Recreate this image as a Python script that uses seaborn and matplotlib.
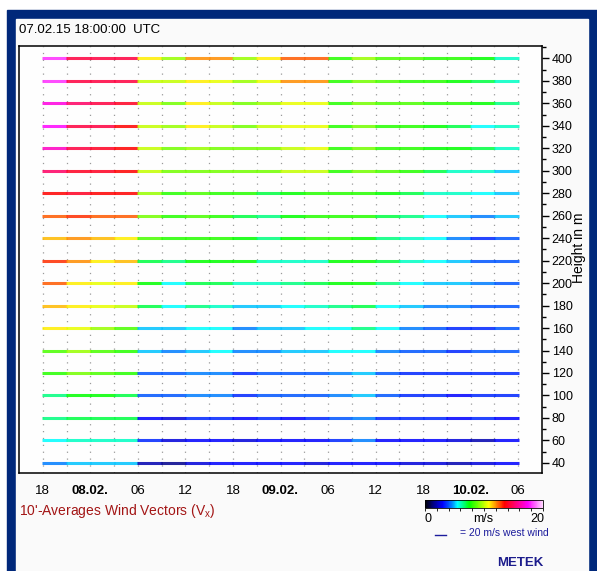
import numpy as np
import pandas as pd
import seaborn as sns
import matplotlib.pyplot as plt
import matplotlib.cm as cm
from matplotlib.colors import LinearSegmentedColormap, Normalize
from matplotlib.patches import Rectangle
from matplotlib.lines import Line2D
from matplotlib.ticker import MultipleLocator

plt.rcParams['font.family'] = ['Liberation Sans', 'DejaVu Sans']

# 10-minute averages, here as 3-hour blocks (hours after 07.02. 00:00)
bin_mid = [19.5, 22.5, 25.5, 28.5, 31.5, 34.5, 37.5, 40.5, 43.5, 46.5,
           49.5, 52.5, 55.5, 58.5, 61.5, 64.5, 67.5, 70.5, 73.5, 76.5]
heights = [400, 380, 360, 340, 320, 300, 280, 260, 240, 220,
           200, 180, 160, 140, 120, 100, 80, 60, 40]

# wind speed in m/s per height level
spd_400 = [18, 14.5, 14.5, 14.5, 11, 9.5, 12, 12, 9.5, 11, 12.5, 12.5, 8, 9.5, 8.5, 8.5, 8, 8, 7.5, 6]
spd_380 = [18, 14.5, 14.5, 14.5, 10, 10, 11, 10.5, 9.5, 10.5, 12, 12, 8, 9, 8.5, 8, 8, 7.5, 7, 6]
spd_360 = [17, 15, 14.5, 14, 10, 9, 11, 10, 9, 9.5, 10.5, 10.5, 8, 9, 8.5, 8.5, 8, 8, 7.5, 6.5]
spd_340 = [17.5, 14.5, 14.5, 13.5, 10, 9.5, 11, 10, 9, 10, 10.5, 10.5, 8, 9, 8, 8, 7.5, 7, 5.5, 6]
spd_320 = [16.5, 14.5, 14, 13.5, 10, 9, 9.5, 9, 9, 9, 10, 10.5, 8, 9, 8, 8, 7.5, 7.5, 7, 6]
spd_300 = [15, 14, 14, 13.5, 10, 9, 9, 9, 9, 9, 10, 10, 8, 9, 8.5, 8, 7, 6, 6, 5]
spd_280 = [13.5, 14, 13.5, 13.5, 9.5, 8, 8.5, 8, 8, 7, 7.5, 8, 8, 8, 7.5, 7, 6, 6, 5.5, 5]
spd_260 = [12.5, 13, 12.5, 12.5, 9, 8, 8.5, 8, 7, 6.5, 7.5, 8, 8, 8, 7, 6.5, 5.5, 5, 4.5, 5]
spd_240 = [11.5, 12, 11.5, 11, 8.5, 8, 8, 8, 7.5, 6.5, 7.5, 8, 8, 7.5, 6.5, 6, 5.5, 4.5, 3.5, 4]
spd_220 = [13, 12, 11, 11.5, 7, 6.5, 7.5, 7.5, 7.5, 6, 6, 6, 7.5, 7.5, 7, 6, 5.5, 5, 4, 4]
spd_200 = [12.5, 11, 10.5, 11, 7.5, 5.5, 7, 7, 6, 6, 6.5, 7, 7.5, 7.5, 6.5, 5.5, 5, 5, 4.5, 4]
spd_180 = [11.5, 11, 10.5, 10, 7, 5.5, 6.5, 6, 5, 5, 5.5, 6, 6.5, 7, 5.5, 5, 4.5, 4.5, 4, 4]
spd_160 = [11, 10.5, 9.5, 8.5, 5, 5, 5.5, 5.5, 4.5, 5, 5, 5.5, 5.5, 6.5, 5.5, 4.5, 4, 3.5, 3.5, 4]
spd_140 = [8.5, 9.5, 8.5, 8, 5, 4.5, 5, 5.5, 4.5, 4.5, 5, 5, 5.5, 5.5, 4.5, 4, 4, 3.5, 4, 4]
spd_120 = [8, 9, 8.5, 8, 4, 4, 4.5, 4.5, 3.5, 4, 4, 4, 4.5, 5, 4, 3.5, 3.5, 3.5, 3.5, 3.5]
spd_100 = [6.5, 7.5, 7.5, 7, 4, 4, 4.5, 4.5, 3.5, 4, 4, 4, 4.5, 5, 4, 3.5, 3.5, 3, 3.5, 3.5]
spd_080 = [6.5, 7, 7, 7, 3, 2.5, 3.5, 3.5, 3, 3.5, 3, 3.5, 4, 4.5, 3.5, 3.5, 3.5, 3, 3.5, 3]
spd_060 = [5.5, 6, 6, 6, 3.5, 2.5, 3, 3, 2.5, 3, 3, 3, 3.5, 4.5, 3, 3, 3, 2.5, 2, 3]
spd_040 = [4.5, 5, 5, 5, 2, 1.5, 2.5, 3, 3, 3, 3, 2.5, 3, 3, 3, 2.5, 2.5, 2, 2.5, 3]

speed_rows = [spd_400, spd_380, spd_360, spd_340, spd_320, spd_300, spd_280, spd_260,
              spd_240, spd_220, spd_200, spd_180, spd_160, spd_140, spd_120, spd_100,
              spd_080, spd_060, spd_040]

xtick_hours = [18, 24, 30, 36, 42, 48, 54, 60, 66, 72, 78]
xtick_labels = ['18', '08.02.', '06', '12', '18', '09.02.', '06', '12', '18', '10.02.', '06']

# long-form table for seaborn
records = []
for h, row in zip(heights, speed_rows):
    for t, v in zip(bin_mid, row):
        records.append((t, h, v))
df = pd.DataFrame(records, columns=['time', 'height', 'speed'])

# METEK-like speed colour scale
stops = [(0.0, (0, 0, 0)), (1.5, (0, 0, 0.55)), (3.0, (0, 0, 1)), (4.5, (0, 0.5, 1)),
         (5.5, (0, 1, 1)), (7.5, (0, 1, 0)), (9.5, (0.6, 1, 0)), (10.8, (1, 1, 0)),
         (12.0, (1, 0.55, 0)), (13.5, (1, 0, 0)), (15.5, (1, 0, 0.5)), (17.5, (1, 0, 1)),
         (20.0, (1, 0.85, 1))]
cmap = LinearSegmentedColormap.from_list('metek', [(s / 20, c) for s, c in stops])
norm = Normalize(0, 20)

W, H = 597, 571
fig = plt.figure(figsize=(W / 100, H / 100), dpi=100)
fig.patch.set_facecolor('white')
fig.add_artist(Rectangle((7 / W, 0), 590 / W, 561 / H, transform=fig.transFigure,
                         color='#00287a', zorder=-2))
fig.add_artist(Rectangle((16 / W, 0), 572 / W, 552 / H, transform=fig.transFigure,
                         color='#fafafa', zorder=-1))

ax = fig.add_axes([19 / W, 1 - 473 / H, 523 / W, 427 / H])
ax.set_facecolor('#fefefe')

# dotted time grid every 3 h
for t in range(18, 79, 3):
    ax.axvline(t, color='#9a9a9a', lw=0.9, ls=(0, (1, 4.5)), zorder=0)

sns.scatterplot(data=df, x='time', y='height', hue='speed', palette=cmap, hue_norm=norm,
                marker='_', s=320, linewidth=2.2, alpha=0.85, legend=False, ax=ax, zorder=2)

ax.set_xlim(15, 81)
ax.set_ylim(31, 411)
ax.set_xlabel('')
ax.set_ylabel('')
for sp in ax.spines.values():
    sp.set_linewidth(1.1)
    sp.set_color('black')

ax.set_xticks(xtick_hours)
ax.set_xticklabels(xtick_labels)
for lab in ax.get_xticklabels():
    if lab.get_text().endswith('.'):
        lab.set_fontweight('bold')
ax.tick_params(axis='x', length=0, pad=9, labelsize=9.5)

ax.yaxis.tick_right()
ax.set_yticks(range(40, 401, 20))
ax.yaxis.set_minor_locator(MultipleLocator(10))
ax.tick_params(axis='y', which='major', length=5, width=1, labelsize=9, pad=2,
               left=False, right=True)
ax.tick_params(axis='y', which='minor', length=3, width=1, left=False, right=True)

fig.text(579 / W, 1 - 248 / H, 'Height in m', rotation=90, ha='center', va='center',
         fontsize=10)
fig.text(19 / W, 1 - 30 / H, '07.02.15 18:00:00  UTC', ha='left', va='center', fontsize=9.5)
fig.text(19 / W, 1 - 511 / H, "10'-Averages Wind Vectors (V$_\\mathregular{x}$)",
         color='#a31515', ha='left', va='center', fontsize=10)

# colour bar
cax = fig.add_axes([425 / W, 1 - 508 / H, 118 / W, 8 / H])
cb = fig.colorbar(cm.ScalarMappable(norm=norm, cmap=cmap), cax=cax, orientation='horizontal')
cb.set_ticks(range(0, 21, 2))
cb.ax.tick_params(length=2, width=0.6, labelbottom=False)
cb.outline.set_linewidth(0.6)
fig.text(428 / W, 1 - 519 / H, '0', ha='center', va='center', fontsize=9)
fig.text(483 / W, 1 - 519 / H, 'm/s', ha='center', va='center', fontsize=9)
fig.text(537 / W, 1 - 519 / H, '20', ha='center', va='center', fontsize=9)

# reference vector
fig.add_artist(Line2D([435 / W, 446 / W], [1 - 535 / H, 1 - 535 / H], color='#1c1c9c', lw=1.0))
fig.text(460 / W, 1 - 533 / H, '= 20 m/s west wind', color='#1c1c9c', ha='left',
         va='center', fontsize=7.5)
fig.text(543 / W, 1 - 563 / H, 'METEK', color='#1c1c8c', ha='right', va='center',
         fontsize=9.5, fontweight='bold')

fig.savefig('out.png', dpi=100)
